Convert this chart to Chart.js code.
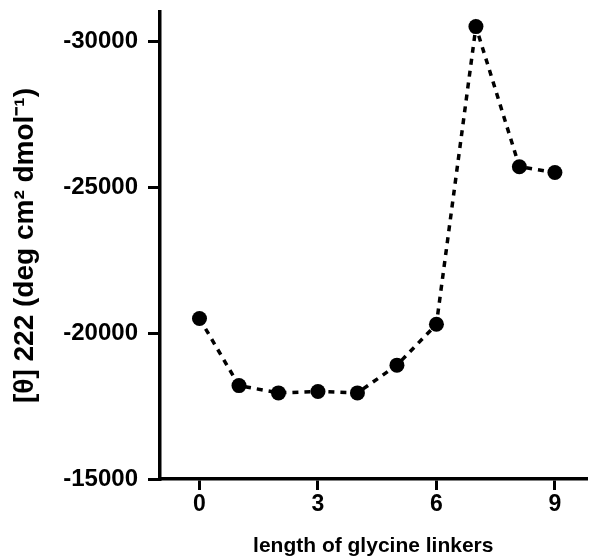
<!DOCTYPE html>
<html>
<head>
<meta charset="utf-8">
<script src="https://cdn.jsdelivr.net/npm/chart.js@4"></script>
<style>
  html, body { margin: 0; padding: 0; background: #fff; }
  #wrap { width: 594px; height: 559px; }
</style>
</head>
<body>
<div id="wrap"><canvas id="cd"></canvas></div>
<script>
// --- data ---
const linkerLength = [0, 1, 2, 3, 4, 5, 6, 7, 8.1, 9];
const theta222 = [-20500, -18200, -17950, -18000, -17950, -18900, -20300, -30500, -25700, -25500];
const xTicks = [0, 3, 6, 9];
const yTicks = [-30000, -25000, -20000, -15000];

Chart.defaults.font.family = "'Liberation Sans', Arial, sans-serif";
Chart.defaults.font.size = 23;
Chart.defaults.font.weight = "bold";
Chart.defaults.color = "#000";

const points = linkerLength.map((x, i) => ({ x: x, y: theta222[i] }));

const ctx = document.getElementById("cd").getContext("2d");
new Chart(ctx, {
  type: "scatter",
  data: {
    datasets: [
      {
        data: points,
        showLine: true,
        borderColor: "#000",
        borderWidth: 3.5,
        borderDash: [6, 6],
        backgroundColor: "#000",
        pointRadius: 7.5,
        pointHoverRadius: 7.5,
        pointBorderWidth: 0,
      },
    ],
  },
  options: {
    responsive: true,
    maintainAspectRatio: false,
    animation: false,
    layout: { padding: { top: 12, right: 4, left: 0, bottom: 0 } },
    plugins: {
      legend: { display: false },
      tooltip: { enabled: false },
    },
    scales: {
      x: {
        type: "linear",
        min: -1,
        max: 9.8,
        afterBuildTicks: (scale) => {
          scale.ticks = xTicks.map((v) => ({ value: v }));
        },
        afterFit: (scale) => {
          scale.height = 80;
        },
        grid: {
          drawOnChartArea: false,
          drawTicks: true,
          tickLength: 11,
          color: "#000",
          lineWidth: 3,
        },
        border: { display: true, color: "#000", width: 3.5 },
        ticks: { padding: 1, font: { size: 23 }, callback: (v) => String(v) },
        title: {
          display: true,
          text: "length of glycine linkers",
          font: { size: 21, weight: "bold" },
          padding: { top: 8, bottom: 0 },
        },
      },
      y: {
        type: "linear",
        reverse: true,
        min: -31000,
        max: -15000,
        afterBuildTicks: (scale) => {
          scale.ticks = yTicks.map((v) => ({ value: v }));
        },
        afterFit: (scale) => {
          scale.width = 160;
          // top label sits well below the axis end, no extra room needed
          scale.paddingTop = 0;
          scale.paddingBottom = 0;
        },
        grid: {
          drawOnChartArea: false,
          drawTicks: true,
          tickLength: 12,
          color: "#000",
          lineWidth: 3,
        },
        border: { display: true, color: "#000", width: 3.5 },
        ticks: { padding: 10, font: { size: 24 }, callback: (v) => String(v) },
        title: {
          display: true,
          text: "[θ] 222 (deg cm² dmol⁻¹)",
          font: { size: 28, weight: "bold" },
          padding: { top: 8, bottom: 0 },
        },
      },
    },
  },
});
</script>
</body>
</html>
